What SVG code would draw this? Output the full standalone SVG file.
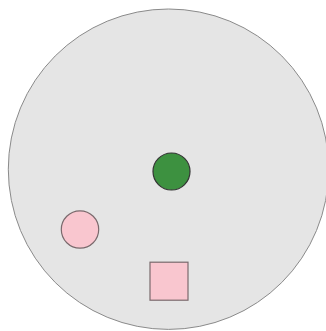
<svg xmlns="http://www.w3.org/2000/svg" width="326" height="331" viewBox="0 0 326 331">
<style>
.pink{fill:#f9c6cf;stroke:#7a6a6d;stroke-width:1.2}
</style>
<rect width="326" height="331" fill="#ffffff"/>
<g id="container"><circle cx="168.5" cy="169.2" r="160.2" fill="#e5e5e5" stroke="#8a8a8a" stroke-width="1"/></g>
<g id="green"><circle cx="171.5" cy="171.5" r="18.5" fill="#3d9140" stroke="#333333" stroke-width="1.2"/></g>
<g id="pinkCircle"><circle cx="80" cy="229.5" r="18.7" class="pink"/></g>
<g id="pinkSquare"><rect x="150" y="262.2" width="38" height="38" class="pink" stroke-width="1.6"/></g>
<g id="connectors"/>
</svg>
